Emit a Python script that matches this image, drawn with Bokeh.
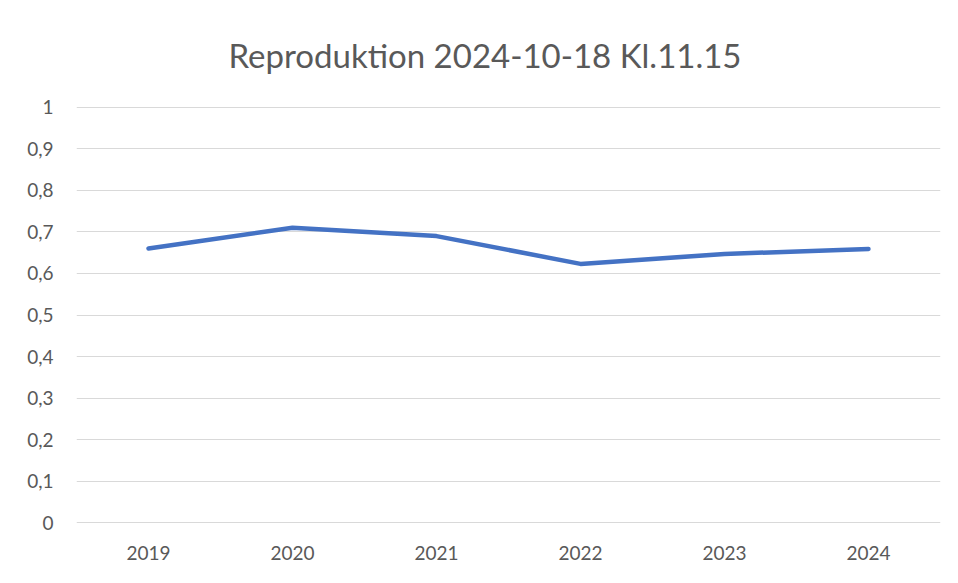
from bokeh.plotting import figure
from bokeh.models import FactorRange, Range1d, FixedTicker, ColumnDataSource
from bokeh.embed import file_html
from bokeh.resources import INLINE

title_text = "Reproduktion 2024-10-18 Kl.11.15"
years = ["2019", "2020", "2021", "2022", "2023", "2024"]
values = [0.66, 0.71, 0.69, 0.623, 0.647, 0.659]
y_ticks = [0, 0.1, 0.2, 0.3, 0.4, 0.5, 0.6, 0.7, 0.8, 0.9, 1]
y_labels = ["0", "0,1", "0,2", "0,3", "0,4", "0,5", "0,6", "0,7", "0,8", "0,9", "1"]

FONT = "Lato"
GREY = "#595959"

src = ColumnDataSource(dict(x=years, y=values))

p = figure(width=942, height=567, x_range=FactorRange(*years, range_padding=0),
           y_range=Range1d(-0.002, 1.002), output_backend="svg", toolbar_location=None,
           min_border_left=76, min_border_right=2, min_border_bottom=44,
           min_border_top=106)

p.title.text = title_text
p.title.align = "left"
p.title.offset = 152
p.title.text_font = FONT
p.title.text_font_size = "33px"
p.title.text_font_style = "normal"
p.title.text_color = GREY
p.title.standoff = 63

p.line("x", "y", source=src, line_color="#4472C4", line_width=4.5,
       line_cap="round", line_join="round")

p.outline_line_color = None
p.xgrid.grid_line_color = None
p.ygrid.grid_line_color = "#d9d9d9"
p.ygrid.grid_line_width = 1

p.yaxis.ticker = FixedTicker(ticks=y_ticks)
p.yaxis.major_label_overrides = dict(zip(y_ticks, y_labels))
for ax in (p.xaxis, p.yaxis):
    ax.axis_line_color = None
    ax.major_tick_line_color = None
    ax.minor_tick_line_color = None
    ax.major_label_text_font = FONT
    ax.major_label_text_font_size = "19px"
    ax.major_label_text_color = GREY
p.yaxis.major_label_standoff = 17
p.xaxis.major_label_standoff = 16

open("out.html", "w").write(file_html(p, INLINE))
